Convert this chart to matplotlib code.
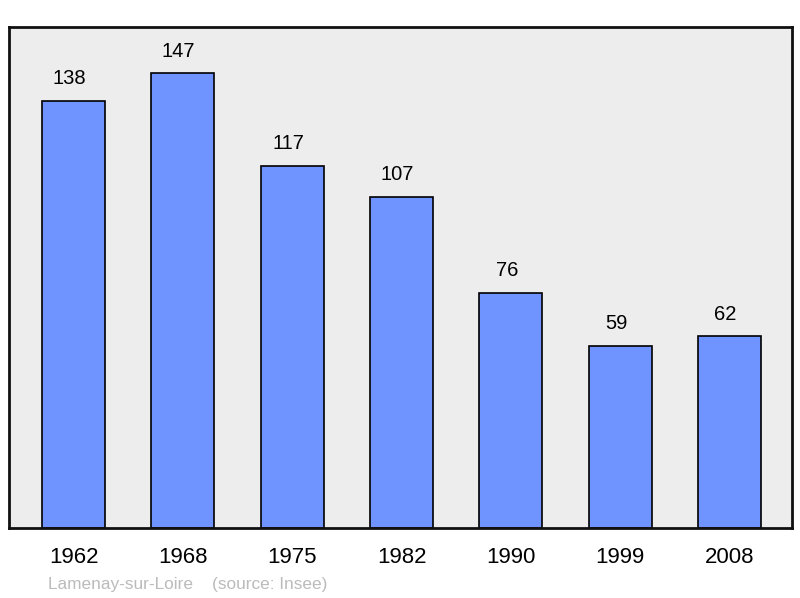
import matplotlib.pyplot as plt

plt.rcParams["font.family"] = ["Liberation Sans", "DejaVu Sans"]

years = ["1962", "1968", "1975", "1982", "1990", "1999", "2008"]
population = [138, 147, 117, 107, 76, 59, 62]
footer = "Lamenay-sur-Loire    (source: Insee)"

fig = plt.figure(figsize=(8, 5.98), dpi=100)
ax = fig.add_axes([9 / 800, 70 / 598, 783 / 800, 501 / 598])
ax.set_facecolor("#ededed")

x = list(range(len(years)))
ax.bar(x, population, width=0.576, color="#7094ff", edgecolor="black", linewidth=1.2, zorder=2)
for xi, v in zip(x, population):
    ax.annotate(str(v), (xi, v), xytext=(-3, 16), textcoords="offset points",
                ha="center", va="center", fontsize=14.5)

ax.set_xlim(-0.59, 6.57)
ax.set_ylim(0, 162)
ax.set_xticks(x)
ax.set_xticklabels(years, fontsize=16)
ax.tick_params(axis="x", length=0, pad=14)
ax.set_yticks([])
for s in ax.spines.values():
    s.set_linewidth(2)
    s.set_color("#111111")

fig.text(48 / 800, 1 - 584 / 598, footer, fontsize=12.4, color="#bbbbbb", va="center", ha="left")

fig.savefig("out.png", dpi=100)
